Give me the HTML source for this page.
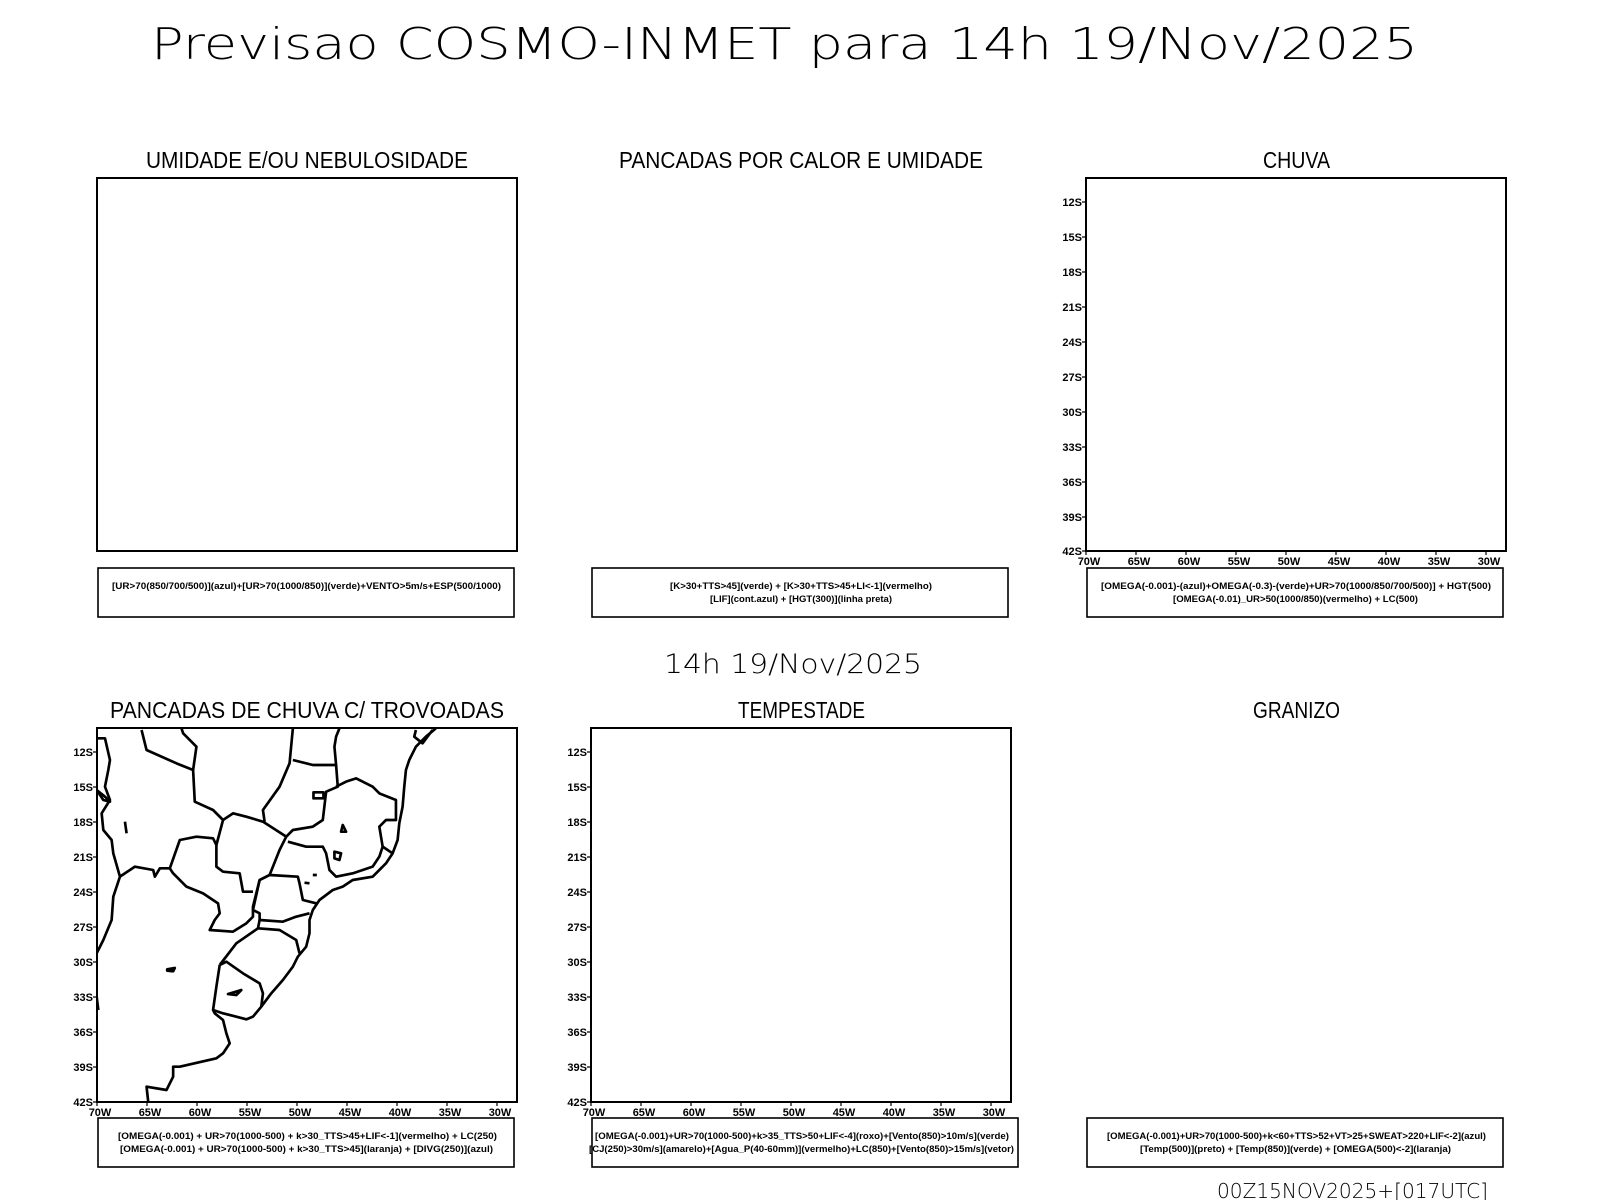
<!DOCTYPE html>
<html><head><meta charset="utf-8"><style>
html,body{margin:0;padding:0;background:#fff;}
svg{display:block;}
.t{font-family:"DejaVu Sans","Liberation Sans",sans-serif;font-weight:200;fill:#000;}
.u{font-family:"Liberation Sans",sans-serif;fill:#000;}
.b{font-family:"Liberation Sans",sans-serif;font-weight:bold;font-size:9px;fill:#000;}
.k{font-family:"Liberation Sans",sans-serif;font-weight:bold;font-size:11px;fill:#000;}
</style></head><body>
<svg width="1600" height="1200" viewBox="0 0 1600 1200" xmlns="http://www.w3.org/2000/svg">
<rect width="1600" height="1200" fill="#fff"/>
<text class="t" x="151" y="59" font-size="44" textLength="1267" lengthAdjust="spacingAndGlyphs">Previsao COSMO-INMET  para 14h 19/Nov/2025</text>

<g class="u" font-size="23">
<text x="146" y="168" textLength="322" lengthAdjust="spacingAndGlyphs">UMIDADE E/OU NEBULOSIDADE</text>
<text x="619" y="168" textLength="364" lengthAdjust="spacingAndGlyphs">PANCADAS POR CALOR E UMIDADE</text>
<text x="1263" y="168" textLength="67" lengthAdjust="spacingAndGlyphs">CHUVA</text>
<text x="110" y="718" textLength="394" lengthAdjust="spacingAndGlyphs">PANCADAS DE CHUVA C/ TROVOADAS</text>
<text x="738" y="718" textLength="127" lengthAdjust="spacingAndGlyphs">TEMPESTADE</text>
<text x="1253" y="718" textLength="87" lengthAdjust="spacingAndGlyphs">GRANIZO</text>
</g>
<text class="t" x="664" y="673" font-size="27" textLength="258" lengthAdjust="spacingAndGlyphs">14h 19/Nov/2025</text>
<text class="t" x="1217" y="1198" font-size="20" textLength="271" lengthAdjust="spacingAndGlyphs">00Z15NOV2025+[017UTC]</text>

<g fill="none" stroke="#000" stroke-width="2">
<rect x="97" y="178" width="420" height="373"/>
<rect x="1086" y="178" width="420" height="373"/>
<rect x="97" y="728" width="420" height="374"/>
<rect x="591" y="728" width="420" height="374"/>
</g>
<g fill="none" stroke="#000" stroke-width="1.6">
<rect x="98" y="568" width="416" height="49"/>
<rect x="592" y="568" width="416" height="49"/>
<rect x="1087" y="568" width="416" height="49"/>
<rect x="98" y="1118" width="416" height="49"/>
<rect x="592" y="1118" width="426" height="49"/>
<rect x="1087" y="1118" width="416" height="49"/>
</g>

<g class="b">
<text x="112" y="589" textLength="389" lengthAdjust="spacingAndGlyphs">[UR&gt;70(850/700/500)](azul)+[UR&gt;70(1000/850)](verde)+VENTO&gt;5m/s+ESP(500/1000)</text>
<text x="670" y="589" textLength="262" lengthAdjust="spacingAndGlyphs">[K&gt;30+TTS&gt;45](verde) + [K&gt;30+TTS&gt;45+LI&lt;-1](vermelho)</text>
<text x="710" y="602" textLength="182" lengthAdjust="spacingAndGlyphs">[LIF](cont.azul) + [HGT(300)](linha preta)</text>
<text x="1101" y="589" textLength="390" lengthAdjust="spacingAndGlyphs">[OMEGA(-0.001)-(azul)+OMEGA(-0.3)-(verde)+UR&gt;70(1000/850/700/500)] + HGT(500)</text>
<text x="1173" y="602" textLength="245" lengthAdjust="spacingAndGlyphs">[OMEGA(-0.01)_UR&gt;50(1000/850)(vermelho) + LC(500)</text>
<text x="118" y="1139" textLength="379" lengthAdjust="spacingAndGlyphs">[OMEGA(-0.001) + UR&gt;70(1000-500) + k&gt;30_TTS&gt;45+LIF&lt;-1](vermelho) + LC(250)</text>
<text x="120" y="1152" textLength="373" lengthAdjust="spacingAndGlyphs">[OMEGA(-0.001) + UR&gt;70(1000-500) + k&gt;30_TTS&gt;45](laranja) + [DIVG(250)](azul)</text>
<text x="595" y="1139" textLength="414" lengthAdjust="spacingAndGlyphs">[OMEGA(-0.001)+UR&gt;70(1000-500)+k&gt;35_TTS&gt;50+LIF&lt;-4](roxo)+[Vento(850)&gt;10m/s](verde)</text>
<text x="589" y="1152" textLength="425" lengthAdjust="spacingAndGlyphs">[CJ(250)&gt;30m/s](amarelo)+[Agua_P(40-60mm)](vermelho)+LC(850)+[Vento(850)&gt;15m/s](vetor)</text>
<text x="1107" y="1139" textLength="379" lengthAdjust="spacingAndGlyphs">[OMEGA(-0.001)+UR&gt;70(1000-500)+k&lt;60+TTS&gt;52+VT&gt;25+SWEAT&gt;220+LIF&lt;-2](azul)</text>
<text x="1140" y="1152" textLength="311" lengthAdjust="spacingAndGlyphs">[Temp(500)](preto) + [Temp(850)](verde) + [OMEGA(500)&lt;-2](laranja)</text>
</g>

<g class="k" text-anchor="end">
<text x="1082" y="206">12S</text><text x="1082" y="241">15S</text><text x="1082" y="276">18S</text><text x="1082" y="311">21S</text><text x="1082" y="346">24S</text><text x="1082" y="381">27S</text><text x="1082" y="416">30S</text><text x="1082" y="451">33S</text><text x="1082" y="486">36S</text><text x="1082" y="521">39S</text><text x="1082" y="555">42S</text>
<text x="93" y="756">12S</text><text x="93" y="791">15S</text><text x="93" y="826">18S</text><text x="93" y="861">21S</text><text x="93" y="896">24S</text><text x="93" y="931">27S</text><text x="93" y="966">30S</text><text x="93" y="1001">33S</text><text x="93" y="1036">36S</text><text x="93" y="1071">39S</text><text x="93" y="1106">42S</text>
<text x="587" y="756">12S</text><text x="587" y="791">15S</text><text x="587" y="826">18S</text><text x="587" y="861">21S</text><text x="587" y="896">24S</text><text x="587" y="931">27S</text><text x="587" y="966">30S</text><text x="587" y="1001">33S</text><text x="587" y="1036">36S</text><text x="587" y="1071">39S</text><text x="587" y="1106">42S</text>
</g>
<g class="k" text-anchor="middle">
<text x="1089" y="565">70W</text><text x="1139" y="565">65W</text><text x="1189" y="565">60W</text><text x="1239" y="565">55W</text><text x="1289" y="565">50W</text><text x="1339" y="565">45W</text><text x="1389" y="565">40W</text><text x="1439" y="565">35W</text><text x="1489" y="565">30W</text>
<text x="100" y="1116">70W</text><text x="150" y="1116">65W</text><text x="200" y="1116">60W</text><text x="250" y="1116">55W</text><text x="300" y="1116">50W</text><text x="350" y="1116">45W</text><text x="400" y="1116">40W</text><text x="450" y="1116">35W</text><text x="500" y="1116">30W</text>
<text x="594" y="1116">70W</text><text x="644" y="1116">65W</text><text x="694" y="1116">60W</text><text x="744" y="1116">55W</text><text x="794" y="1116">50W</text><text x="844" y="1116">45W</text><text x="894" y="1116">40W</text><text x="944" y="1116">35W</text><text x="994" y="1116">30W</text>
</g>
<g stroke="#000" stroke-width="1.2">
<path d="M1082 202h4M1082 237h4M1082 272h4M1082 307h4M1082 342h4M1082 377h4M1082 412h4M1082 447h4M1082 482h4M1082 517h4M1082 551h4"/>
<path d="M1086 551v4M1136 551v4M1186 551v4M1236 551v4M1286 551v4M1336 551v4M1386 551v4M1436 551v4M1486 551v4"/>
<path d="M93 752h4M93 787h4M93 822h4M93 857h4M93 892h4M93 927h4M93 962h4M93 997h4M93 1032h4M93 1067h4M93 1102h4"/>
<path d="M97 1102v4M147 1102v4M197 1102v4M247 1102v4M297 1102v4M347 1102v4M397 1102v4M447 1102v4M497 1102v4"/>
<path d="M587 752h4M587 787h4M587 822h4M587 857h4M587 892h4M587 927h4M587 962h4M587 997h4M587 1032h4M587 1067h4M587 1102h4"/>
<path d="M591 1102v4M641 1102v4M691 1102v4M741 1102v4M791 1102v4M841 1102v4M891 1102v4M941 1102v4M991 1102v4"/>
</g>

<svg x="97" y="728" width="420" height="374" viewBox="51 24 1263 1122" preserveAspectRatio="none" overflow="hidden">
<g fill="none" stroke="#000" stroke-width="8" stroke-linejoin="round">
<path d="M1070,25 L1040,50 1010,80 990,120 980,150 975,200 970,260 960,310 955,360 940,400 920,430 880,470 820,480 790,500 760,510 720,540 700,570 690,600 690,640 680,680 655,710 640,740 610,780 575,820 545,860 520,890 500,898 470,890 430,880 400,870 405,880 430,900 440,940 450,970 430,1000 410,1015 300,1040 280,1040 280,1070 260,1110 200,1100 205,1145"/>
<path d="M50,55 L75,55 90,120 85,150 75,200 90,240 65,280 70,330 95,360 100,400 120,470 150,450 165,440 220,450 225,470 240,445 270,445"/>
<path d="M120,470 L100,530 95,600 70,660 50,700"/>
<path d="M270,445 L280,460 320,500 370,520 415,550 420,580 405,600 390,630 460,635 500,610 520,590 520,560 540,480 570,465"/>
<path d="M270,445 L300,360 350,350 400,355 410,375 410,440 430,455 480,460 490,515 520,515"/>
<path d="M410,375 L430,300 460,280 500,290 550,305 620,350 600,390 570,465 655,470 660,490 670,540 710,550"/>
<path d="M430,300 L400,270 345,245 340,150 290,130 200,90 185,30"/>
<path d="M340,150 L350,80 310,40 305,25"/>
<path d="M555,305 L550,270 600,200 630,130 640,25"/>
<path d="M640,120 L700,135 770,135 765,80 770,50 780,25"/>
<path d="M770,135 L775,200 740,215 730,300 700,320 640,330 620,350"/>
<path d="M625,365 L680,380 730,380 740,400 750,450 770,470 820,460 850,450 880,440 900,410 910,380 900,320 920,300 950,300 950,240 900,220 880,200 830,175 800,185 770,200"/>
<path d="M910,380 L940,400"/>
<path d="M540,480 L520,570 540,580 540,600 610,605 650,590 690,580"/>
<path d="M540,600 L535,625 600,630 650,660 660,700"/>
<path d="M420,735 L440,725 490,760 540,790 550,820 545,860"/>
<path d="M420,735 L470,670 535,625"/>
<path d="M420,735 L410,800 400,870"/>
<path d="M1010,30 L1005,50 1030,70 1060,30"/>
<rect x="702" y="217" width="30" height="18"/>
<path d="M262,748 L285,744 280,754 262,752Z"/>
<path d="M445,822 L485,810 470,825Z"/>
<path d="M790,315 L800,335 785,335Z"/>
<path d="M765,395 L785,400 780,420 765,415Z"/>
<path d="M50,210 L75,230 90,245 70,240Z"/>
<path d="M135,305 L140,340"/>
<path d="M700,465 L712,465 M675,488 L690,490"/>
<path d="M50,830 L55,870"/>
</g>
</svg>
</svg>
</body></html>
